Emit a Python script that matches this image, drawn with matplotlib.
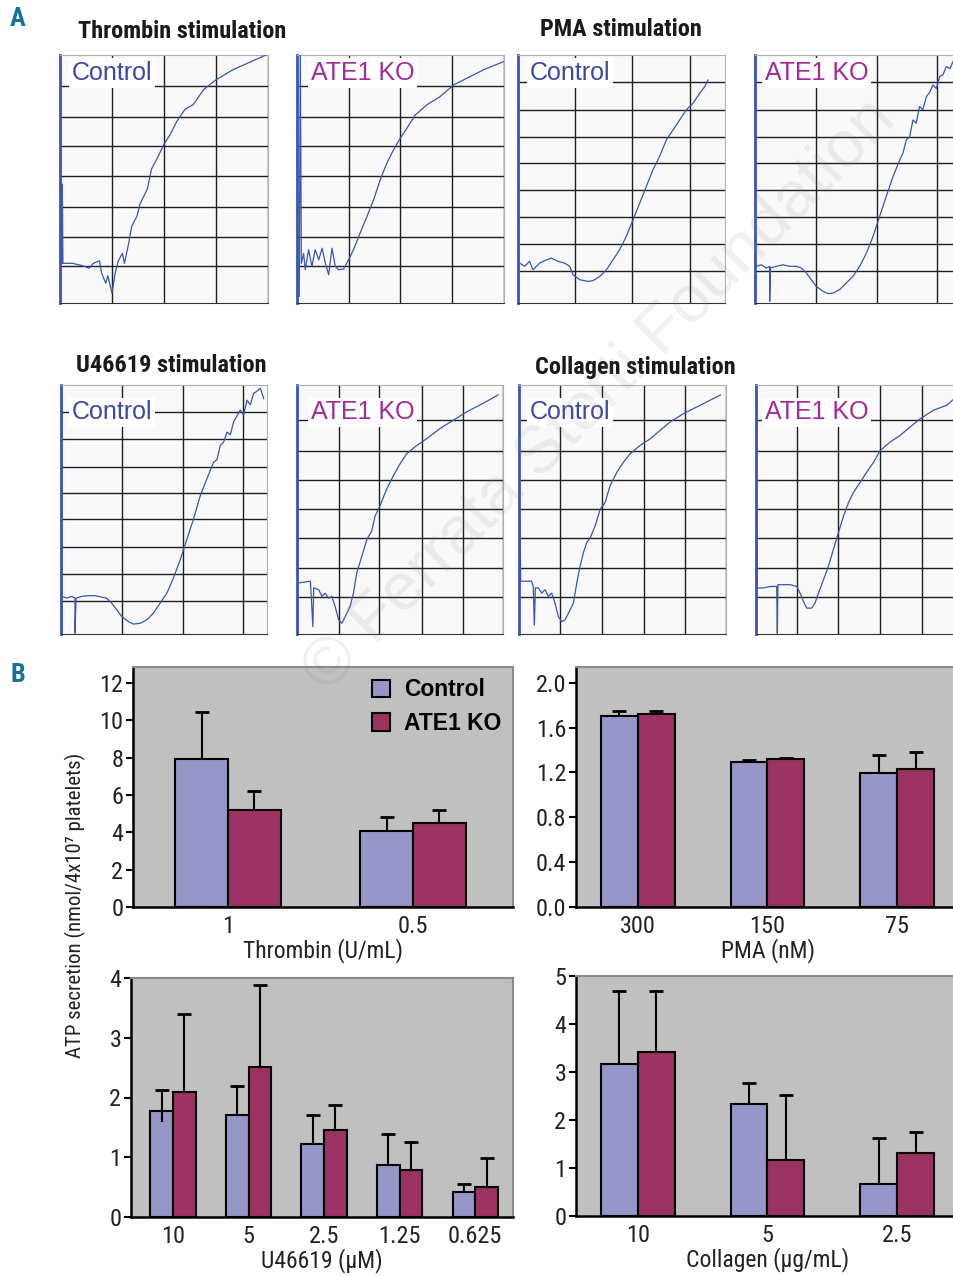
import matplotlib.pyplot as plt

W, H = 954, 1276
NARROW = ['Roboto Condensed', 'Archivo Narrow', 'Liberation Sans Narrow', 'DejaVu Sans']
ARIAL = ['Liberation Sans', 'DejaVu Sans']

# ---- panel A: aggregation traces (x = % of record time, y = % of panel height) ----
thr_ctl_x = [1, 1.1, 1.4, 6, 11, 14, 16, 19, 20, 22, 23, 25, 26.5, 28, 30, 31, 33, 34.5, 37, 38.5,
             42, 43, 44, 46.5, 50, 53, 56, 60, 64, 69, 75, 83, 91, 99]
thr_ctl_y = [16, 48, 16, 16, 15, 14, 16, 17, 12, 8, 11, 4, 12, 17, 20, 16, 24, 31, 35, 40,
             46, 50, 54, 58, 64, 68, 73, 78, 80, 86, 90, 94, 97, 100]
thr_ko_x = [1.1, 1.6, 2.1, 3.2, 4.0, 5.6, 7.2, 8.8, 10.5, 12.1, 13.7, 15.3, 16.9, 18.5, 20.1, 22.5,
            24.9, 27.3, 30.5, 33.8, 37.0, 40.2, 43.4, 46.6, 49.8, 53.1, 57.1, 62.7, 69.1, 75.6, 82.0, 90.0, 99.7]
thr_ko_y = [2.7, 100, 16, 20, 13.4, 21.5, 14.8, 21.5, 17.4, 22.1, 16.1, 11.4, 22.1, 14.8, 13.4, 13.7,
            17.4, 21.5, 28.2, 34.9, 41.6, 49.7, 56.4, 61.7, 66.4, 70.5, 75.8, 79.9, 83.2, 87.9, 90.6, 94.0, 97.3]
pma_ctl_x = [0.8, 3.2, 5.6, 7.2, 10.5, 13.7, 16.1, 19.3, 22.5, 25.0, 26.6, 29.8, 33.8, 36.2, 39.5, 42.7,
             45.9, 49.1, 52.3, 55.6, 58.8, 62.0, 65.2, 68.4, 71.7, 74.9, 78.1, 81.3, 84.5, 87.8, 90.2, 91.8]
pma_ctl_y = [16.1, 14.8, 16.8, 13.4, 16.1, 17.4, 18.1, 16.8, 16.1, 14.8, 11.4, 9.4, 8.7, 9.0, 10.7, 13.4,
             17.4, 21.5, 26.8, 33.6, 40.3, 47.0, 53.7, 59.1, 65.8, 69.8, 73.8, 77.9, 80.5, 84.6, 87.2, 89.9]
pma_ko_x = [0.6, 3.1, 5.5, 7.1, 7.1, 7.4, 10.3, 13.5, 16.7, 20.0, 22.4, 24.8, 27.2, 29.6, 32.9, 35.3,
            37.7, 40.9, 44.1, 47.3, 50.6, 53.8, 57.0, 60.2, 63.4, 66.7, 69.9, 71.5, 73.1, 74.7, 76.3,
            77.9, 79.5, 81.1, 82.8, 84.4, 86.0, 87.6, 89.2, 90.8, 92.4, 94.2, 96.0]
pma_ko_y = [14.8, 15.4, 14.1, 14.8, 0.7, 14.1, 14.8, 15.4, 14.8, 14.8, 14.1, 12.1, 9.4, 6.7, 4.7, 3.8,
            4.0, 5.4, 8.1, 10.7, 14.8, 20.1, 26.8, 34.9, 43.0, 51.0, 57.7, 60.5, 65.8, 67.0, 73.8,
            72.5, 79.2, 78.0, 83.2, 85.0, 87.9, 86.5, 91.3, 92.0, 95.3, 94.5, 98.0]
u_ctl_x = [0.6, 2.8, 5.2, 6.8, 6.8, 7.3, 10.0, 13.3, 16.5, 19.8, 22.2, 24.6, 27.1, 29.5, 32.7, 35.2,
           38.4, 41.7, 44.9, 48.1, 51.4, 54.6, 57.9, 61.1, 64.3, 67.6, 70.8, 74.1, 75.7, 77.3, 78.9,
           80.6, 82.2, 83.8, 85.4, 87.0, 88.6, 90.3, 91.9, 93.5, 95.1, 96.8, 98.4]
u_ctl_y = [15.1, 14.4, 15.1, 14.4, 0.3, 14.4, 15.1, 15.4, 15.4, 14.8, 14.4, 12.4, 9.7, 7.0, 5.0, 4.0,
           4.3, 5.7, 8.4, 12.4, 16.4, 22.5, 29.9, 38.0, 46.1, 55.5, 62.3, 69.0, 70.0, 75.7, 77.0,
           81.1, 80.0, 85.2, 87.5, 89.9, 88.0, 93.9, 92.0, 96.6, 97.5, 98.7, 94.5]
u_ko_x = [0.8, 3.2, 6.5, 7.7, 8.1, 10.5, 12.1, 13.7, 15.3, 16.9, 18.5, 20.2, 21.8, 23.4, 25.8, 27.4,
          29.0, 31.5, 33.9, 36.3, 37.9, 40.3, 43.5, 46.8, 50.0, 53.2, 58.1, 62.9, 69.4, 75.8, 82.3,
          90.3, 97.6]
u_ko_y = [20.5, 20.8, 21.2, 3.0, 18.5, 17.8, 15.1, 16.4, 14.4, 15.1, 11.1, 5.7, 4.3, 7.0, 11.1, 16.4,
          24.5, 31.3, 38.0, 41.4, 47.4, 51.5, 58.2, 63.6, 68.3, 72.4, 75.7, 78.4, 82.5, 85.8, 89.2,
          92.6, 96.0]
col_ctl_x = [0.5, 0.8, 3.7, 6.1, 6.9, 7.4, 7.9, 9.4, 11.0, 12.6, 14.2, 15.8, 17.4, 19.0, 20.6, 22.3,
             23.9, 26.3, 27.9, 29.5, 31.1, 32.7, 34.4, 36.8, 39.2, 41.6, 44.0, 47.3, 50.5, 53.7, 58.5,
             63.4, 68.2, 73.1, 79.5, 87.6, 97.3]
col_ctl_y = [46.1, 21.2, 21.2, 21.2, 19.1, 3.6, 18.5, 18.5, 16.4, 17.8, 15.1, 16.4, 12.4, 7.0, 5.0, 5.7,
             8.4, 12.4, 20.5, 27.2, 32.6, 36.7, 38.7, 43.4, 50.1, 52.8, 59.6, 65.0, 69.0, 72.4, 75.7,
             78.4, 81.8, 85.2, 88.5, 91.9, 96.0]
col_ko_x = [0.3, 0.6, 3.5, 6.8, 10.0, 10.3, 10.6, 13.2, 16.5, 19.7, 21.3, 22.9, 24.5, 26.9, 28.5, 30.2,
            32.6, 35.0, 37.4, 39.8, 42.3, 44.7, 47.1, 50.3, 53.5, 56.8, 60.0, 64.8, 69.7, 74.5, 79.4,
            85.8, 92.3, 95.8]
col_ko_y = [50.1, 18.5, 18.5, 19.1, 19.1, 0.3, 19.8, 19.8, 19.8, 19.1, 16.4, 13.1, 10.4, 10.4, 12.4, 16.4,
            21.8, 27.2, 34.0, 40.7, 47.4, 52.8, 56.9, 60.9, 65.0, 69.0, 73.7, 77.1, 79.8, 83.2, 86.5,
            89.9, 91.9, 94.6]

# ---- panel B: ATP secretion (mean and upper SD) ----
groups = ['Control', 'ATE1 KO']
thr_doses = ['1', '0.5']
thr_ctl = [7.95, 4.09]
thr_ctl_sd = [2.48, 0.71]
thr_ko = [5.21, 4.48]
thr_ko_sd = [0.99, 0.73]

pma_doses = ['300', '150', '75']
pma_ctl = [1.70, 1.295, 1.196]
pma_ctl_sd = [0.047, 0.015, 0.155]
pma_ko = [1.717, 1.321, 1.232]
pma_ko_sd = [0.03, 0.012, 0.152]

u_doses = ['10', '5', '2.5', '1.25', '0.625']
u_ctl = [1.78, 1.70, 1.23, 0.87, 0.415]
u_ctl_sd = [0.35, 0.50, 0.47, 0.52, 0.13]
u_ctl_sd_low = [0.19, 0, 0, 0, 0]
u_ko = [2.09, 2.51, 1.45, 0.79, 0.50]
u_ko_sd = [1.30, 1.37, 0.42, 0.47, 0.48]

col_doses = ['10', '5', '2.5']
col_ctl = [3.16, 2.33, 0.67]
col_ctl_sd = [1.52, 0.44, 0.96]
col_ko = [3.42, 1.16, 1.32]
col_ko_sd = [1.27, 1.36, 0.44]

CTL_C = '#9696c8'
KO_C = '#9b3262'
TRACE_C = '#3a55b0'

fig = plt.figure(figsize=(W / 100, H / 100), dpi=100)


def px_axes(x0, y0, x1, y1):
    return fig.add_axes([x0 / W, 1 - y1 / H, (x1 - x0) / W, (y1 - y0) / H])


def trace_panel(box, xs, ys, vgrid, hgrid, label, label_color, label_pos):
    ax = px_axes(*box)
    ax.set_facecolor('#f8f9f8')
    ax.set_xlim(0, 100)
    ax.set_ylim(0, 100)
    for v in vgrid:
        ax.axvline(v, color='#1e1e1e', lw=1.0, zorder=1)
    for h in hgrid:
        ax.axhline(h, color='#1e1e1e', lw=1.0, zorder=1)
    ax.plot(xs, ys, color=TRACE_C, lw=0.9, zorder=3)
    for s in ['top', 'right']:
        ax.spines[s].set_color('#b0b0b0')
    ax.spines['bottom'].set_color('#333333')
    ax.spines['left'].set_color(TRACE_C)
    ax.spines['left'].set_linewidth(2)
    ax.set_xticks([])
    ax.set_yticks([])
    ax.text(label_pos[0], label_pos[1], label, transform=ax.transAxes, color=label_color,
            fontsize=18, family=ARIAL, ha='left', va='center', zorder=4,
            bbox=dict(fc='white', ec='none', pad=2))
    return ax


thr_h = [87.5, 75.2, 63.4, 51.4, 38.9, 26.8, 14.8]
pma_h = [89.0, 77.9, 67.1, 56.4, 45.6, 34.6, 23.8, 13.0]
trace_panel((60, 55, 268, 303), thr_ctl_x, thr_ctl_y, [24.9, 49.8, 75.0, 100], thr_h,
            'Control', '#3a48a8', (0.058, 0.927))
trace_panel((297, 55, 504, 303), thr_ko_x, thr_ko_y, [24.9, 49.8, 75.0, 100], thr_h,
            'ATE1 KO', '#a3299b', (0.068, 0.927))
trace_panel((518, 55, 725, 303), pma_ctl_x, pma_ctl_y, [27.7, 55.2, 83.1], pma_h,
            'Control', '#3a48a8', (0.058, 0.927))
trace_panel((755, 55, 962, 303), pma_ko_x, pma_ko_y, [29.6, 58.8, 87.9], pma_h,
            'ATE1 KO', '#a3299b', (0.048, 0.927))

u_h = [89.2, 78.2, 67.0, 56.5, 46.0, 35.0, 23.9, 13.3]
r2_h = [85.8, 73.3, 61.9, 50.4, 38.4, 26.5, 14.8]
trace_panel((61, 385, 267, 634), u_ctl_x, u_ctl_y, [29.7, 59.0, 88.2], u_h,
            'Control', '#3a48a8', (0.053, 0.89))
trace_panel((297, 385, 503, 634), u_ko_x, u_ko_y, [20.2, 40.0, 60.5, 80.6, 100], r2_h,
            'ATE1 KO', '#a3299b', (0.068, 0.89))
trace_panel((519, 385, 726, 634), col_ctl_x, col_ctl_y, [19.8, 40.0, 60.2, 80.3, 100], r2_h,
            'Control', '#3a48a8', (0.053, 0.89))
trace_panel((756, 385, 963, 634), col_ko_x, col_ko_y, [19.7, 39.8, 60.0, 80.2], r2_h,
            'ATE1 KO', '#a3299b', (0.043, 0.89))

title_kw = dict(fontsize=17.5, fontweight='bold', family=NARROW, color='#1a1a1a', va='center')
fig.text(78 / W, 1 - 31 / H, 'Thrombin stimulation', **title_kw)
fig.text(540 / W, 1 - 30 / H, 'PMA stimulation', **title_kw)
fig.text(76 / W, 1 - 366 / H, 'U46619 stimulation', **title_kw)
fig.text(535 / W, 1 - 368 / H, 'Collagen stimulation', **title_kw)
fig.text(18 / W, 1 - 19 / H, 'A', fontsize=19, fontweight='bold', family=NARROW, color='#17729b',
         ha='center', va='center')
fig.text(18 / W, 1 - 675 / H, 'B', fontsize=19, fontweight='bold', family=NARROW, color='#17729b',
         ha='center', va='center')


def bar_panel(box, doses, ctl, ctl_sd, ko, ko_sd, ymax, yticks, ylabels, xlim, xlabel,
              ctl_low=None, width=0.285):
    ax = px_axes(*box)
    ax.set_facecolor('#c0c0c0')
    x = list(range(len(doses)))
    xc = [i - width / 2 for i in x]
    xk = [i + width / 2 for i in x]
    ax.bar(xc, ctl, width, color=CTL_C, edgecolor='black', lw=1.5, zorder=2, label=groups[0])
    ax.bar(xk, ko, width, color=KO_C, edgecolor='black', lw=1.5, zorder=2, label=groups[1])
    if ctl_low is None:
        ctl_low = [0] * len(doses)
    ax.vlines(xc, [m - l for m, l in zip(ctl, ctl_low)], [m + s for m, s in zip(ctl, ctl_sd)],
              color='black', lw=1.5, zorder=3)
    ax.vlines(xk, ko, [m + s for m, s in zip(ko, ko_sd)], color='black', lw=1.5, zorder=1)
    ax.plot(xc, [m + s for m, s in zip(ctl, ctl_sd)], ls='none', marker='_', ms=10, mew=2,
            color='black', zorder=3)
    ax.plot(xk, [m + s for m, s in zip(ko, ko_sd)], ls='none', marker='_', ms=10, mew=2,
            color='black', zorder=3)
    ax.set_xlim(*xlim)
    ax.set_ylim(0, ymax)
    ax.set_yticks(yticks)
    ax.set_yticklabels(ylabels, family=NARROW, fontsize=17.5, color='#222222')
    ax.set_xticks(x)
    ax.set_xticklabels(doses, family=NARROW, fontsize=17.5, color='#222222')
    ax.tick_params(axis='y', length=5, width=1.5, pad=2)
    ax.tick_params(axis='x', length=0, pad=6)
    ax.set_xlabel(xlabel, family=NARROW, fontsize=17, color='#222222', labelpad=0)
    for s in ['top', 'right']:
        ax.spines[s].set_color('#8a8a8a')
        ax.spines[s].set_linewidth(1.5)
    for s in ['left', 'bottom']:
        ax.spines[s].set_color('black')
        ax.spines[s].set_linewidth(1.8)
    return ax


ax_thr = bar_panel((133, 667, 513, 907), thr_doses, thr_ctl, thr_ctl_sd, thr_ko, thr_ko_sd,
                   12.85, [0, 2, 4, 6, 8, 10, 12], ['0', '2', '4', '6', '8', '10', '12'],
                   (-0.514, 1.54), 'Thrombin (U/mL)')
bar_panel((576, 667, 960, 907), pma_doses, pma_ctl, pma_ctl_sd, pma_ko, pma_ko_sd,
          2.14, [0, 0.4, 0.8, 1.2, 1.6, 2.0], ['0.0', '0.4', '0.8', '1.2', '1.6', '2.0'],
          (-0.477, 2.485), 'PMA (nM)')
bar_panel((131, 978, 513, 1217), u_doses, u_ctl, u_ctl_sd, u_ko, u_ko_sd,
          4, [0, 1, 2, 3, 4], ['0', '1', '2', '3', '4'],
          (-0.556, 4.50), 'U46619 (μM)', ctl_low=u_ctl_sd_low, width=0.30)
bar_panel((576, 976, 960, 1216), col_doses, col_ctl, col_ctl_sd, col_ko, col_ko_sd,
          5, [0, 1, 2, 3, 4, 5], ['0', '1', '2', '3', '4', '5'],
          (-0.477, 2.485), 'Collagen (μg/mL)')

leg = ax_thr.legend(loc='upper right', frameon=False, prop=dict(family=ARIAL, weight='bold', size=16.5),
                    handlelength=0.8, handleheight=0.8, handletextpad=0.6, labelspacing=0.45,
                    borderaxespad=0.1, bbox_to_anchor=(1.0, 1.0))

fig.text(75 / W, 1 - 905 / H, 'ATP secretion (nmol/4x10⁷ platelets)', rotation=90,
         family=NARROW, fontsize=15, color='#222222', ha='center', va='center')

# faint publisher watermark
fig.text(600 / W, 1 - 395 / H, '© Ferrata Storti Foundation', rotation=45, rotation_mode='anchor',
         ha='center', va='center', fontsize=48, family=ARIAL, color='#808080', alpha=0.12, zorder=10)

fig.savefig('out.png', dpi=100)
